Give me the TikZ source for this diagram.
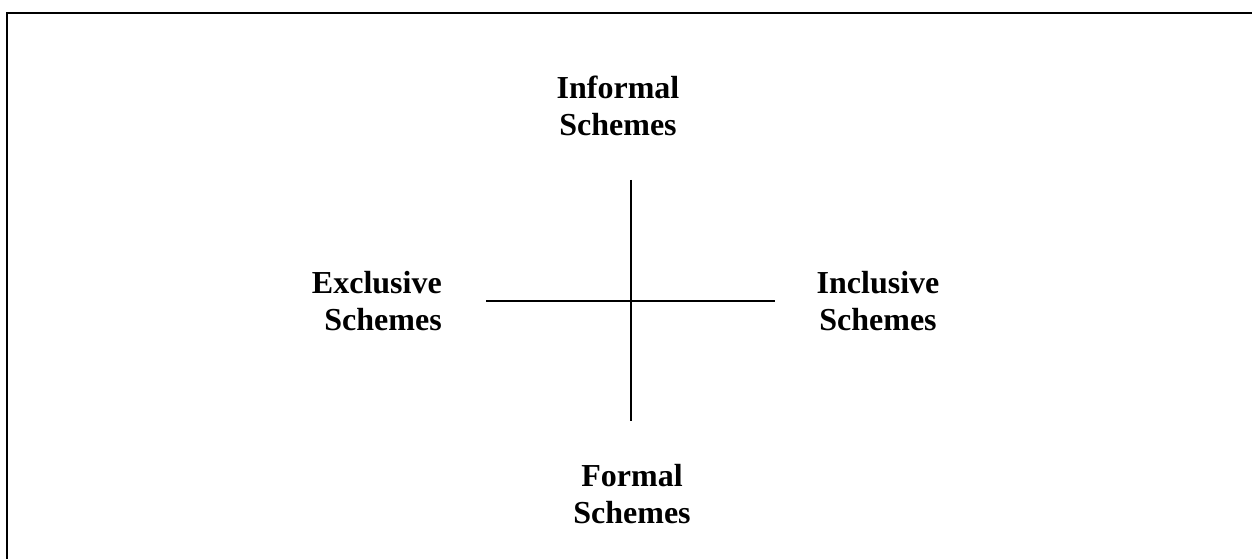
\documentclass[tikz,border=0pt]{standalone}
\usepackage{fontspec}
\setmainfont{Liberation Serif}
\begin{document}
\begin{tikzpicture}[x=0.75pt,y=-0.75pt,
  lbl/.style={font=\bfseries\fontsize{24}{27.75}\selectfont, inner sep=0pt, anchor=base},
  axis/.style={line width=1.1pt},
  frame/.style={line width=1.5pt}]
\useasboundingbox (0,0) rectangle (1252,559);
% frame (only top and left visible)
\coordinate (fa) at (7,559);
\coordinate (fb) at (7,13);
\coordinate (fc) at (1253,13);
\draw[frame] (fa) -- (fb) -- (fc);
% axes
\coordinate (top) at (631,180);
\coordinate (bot) at (631,421);
\coordinate (lft) at (486,301);
\coordinate (rgt) at (775,301);
\draw[axis] (top) -- (bot);
\draw[axis] (lft) -- (rgt);
% labels (anchor base = baseline of the last line)
\node[lbl, align=center] (inf) at (618,136) {Informal\\Schemes};
\node[lbl, align=center] (inc) at (878,330) {Inclusive\\Schemes};
\node[lbl, align=center] (for) at (632,523) {Formal\\Schemes};
\node[lbl, align=right, anchor=base east] (exc) at (442,330) {Exclusive\\Schemes};
\end{tikzpicture}
\end{document}
